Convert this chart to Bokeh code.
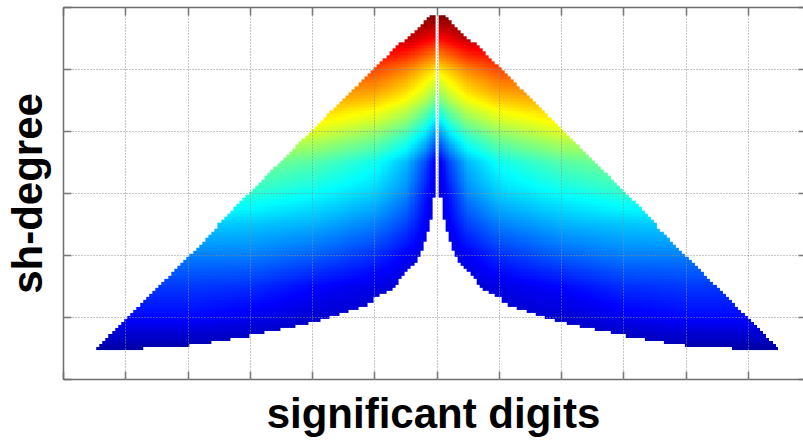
import numpy as np
from bokeh.plotting import figure
from bokeh.models import Range1d, FixedTicker, LinearAxis, CustomJSTickFormatter
from bokeh.embed import file_html
from bokeh.resources import INLINE

# ---------------- data ----------------
# rows of the map: sh-degree of each row (bottom row .. apex row)
degree_first = 10
degree_last = 117

# outer edge of the triangle: half-width (in columns) read at several degrees
edge_degree = [10, 20, 40, 60, 80, 100, 117]
edge_halfwidth = [109, 99, 79, 60, 40, 20, 2]

# empty notch at the bottom centre: lowest degree present for each |column|
notch_col = [1, 2, 3, 4, 5, 6, 7, 8, 9, 10, 11, 12, 13, 14, 15, 17, 19, 21, 23, 26,
             29, 32, 35, 38, 42, 46, 51, 56, 61, 67, 73, 80, 95]
notch_min_degree = [59, 52, 48, 45, 42, 40, 38, 37, 36, 35, 34, 33, 31, 30, 29, 28, 27, 25, 24, 23,
                    22, 21, 20, 19, 18, 17, 16, 15, 14, 13, 12, 11, 10]

# colour level (0..1 on the jet scale) read at degree x |column|
level_degree = [10, 20, 30, 40, 50, 60, 70, 80, 90, 100, 110, 117]
level_col = [1, 4, 10, 20, 40, 60, 80, 100, 110]
level_values = [
    [0.04, 0.04, 0.04, 0.04, 0.04, 0.04, 0.04, 0.04, 0.04],
    [0.05, 0.05, 0.06, 0.07, 0.08, 0.11, 0.13, 0.13, 0.13],
    [0.06, 0.06, 0.08, 0.10, 0.13, 0.17, 0.18, 0.18, 0.18],
    [0.08, 0.09, 0.12, 0.17, 0.22, 0.25, 0.25, 0.25, 0.25],
    [0.09, 0.12, 0.19, 0.25, 0.30, 0.32, 0.33, 0.33, 0.33],
    [0.10, 0.15, 0.26, 0.33, 0.38, 0.42, 0.42, 0.42, 0.42],
    [0.12, 0.20, 0.31, 0.39, 0.46, 0.50, 0.50, 0.50, 0.50],
    [0.30, 0.37, 0.46, 0.53, 0.60, 0.60, 0.60, 0.60, 0.60],
    [0.50, 0.55, 0.62, 0.68, 0.72, 0.72, 0.72, 0.72, 0.72],
    [0.66, 0.69, 0.75, 0.81, 0.81, 0.81, 0.81, 0.81, 0.81],
    [0.88, 0.90, 0.95, 0.95, 0.95, 0.95, 0.95, 0.95, 0.95],
    [1.00, 1.00, 1.00, 1.00, 1.00, 1.00, 1.00, 1.00, 1.00],
]

x_ticks = [-120, -100, -80, -60, -40, -20, 0, 20, 40, 60, 80, 100]
y_ticks = [0, 20, 40, 60, 80, 100, 120]

# jet colour map anchors
jet_pos = [0.0, 0.125, 0.375, 0.625, 0.875, 1.0]
jet_r = [0.0, 0.0, 0.0, 1.0, 1.0, 0.5]
jet_g = [0.0, 0.0, 1.0, 1.0, 0.0, 0.0]
jet_b = [0.5, 1.0, 1.0, 0.0, 0.0, 0.0]

# ---------------- build the cell map ----------------
degrees = np.arange(degree_first, degree_last + 1)
maxw = max(edge_halfwidth)
cols = np.arange(-maxw, maxw + 1)
acol = np.abs(cols)

lv = np.array(level_values)
by_col = np.array([np.interp(acol, level_col, row) for row in lv])  # (n_level, ncols)
field = np.array([np.interp(degrees, level_degree, by_col[:, j]) for j in range(len(cols))]).T

half = np.rint(np.interp(degrees, edge_degree, edge_halfwidth))
idx = np.searchsorted(notch_col, acol, side="right") - 1
min_deg = np.where(idx >= 0, np.array(notch_min_degree)[np.clip(idx, 0, None)], 999)

mask = (acol[None, :] >= 1) & (acol[None, :] <= half[:, None]) & (degrees[:, None] >= min_deg[None, :])

r = np.interp(field, jet_pos, jet_r)
g = np.interp(field, jet_pos, jet_g)
b = np.interp(field, jet_pos, jet_b)

nrow, ncol = field.shape
img = np.zeros((nrow, ncol), dtype=np.uint32)
view = img.view(dtype=np.uint8).reshape((nrow, ncol, 4))
view[:, :, 0] = np.rint(r * 255).astype(np.uint8)
view[:, :, 1] = np.rint(g * 255).astype(np.uint8)
view[:, :, 2] = np.rint(b * 255).astype(np.uint8)
view[:, :, 3] = np.where(mask, 255, 0).astype(np.uint8)

up = 4
img_up = np.repeat(np.repeat(img, up, axis=0), up, axis=1)

# ---------------- figure ----------------
p = figure(width=803, height=440,
           x_range=Range1d(-120, 117.7), y_range=Range1d(0, 120),
           output_backend="svg", toolbar_location=None,
           min_border_left=61, min_border_right=0, min_border_top=7, min_border_bottom=61)
p.background_fill_color = "white"
p.border_fill_color = "white"
p.outline_line_color = None

p.image_rgba(image=[img_up], x=cols[0] - 0.5, y=degrees[0] - 0.5, dw=len(cols), dh=len(degrees))

empty = CustomJSTickFormatter(code="return ''")
axis_color = "#6e6e6e"

for ax, ticks in ((p.xaxis[0], x_ticks), (p.yaxis[0], y_ticks)):
    ax.ticker = FixedTicker(ticks=ticks)
    ax.formatter = empty
    ax.major_tick_in = 8
    ax.major_tick_out = 0
    ax.minor_tick_line_color = None
    ax.major_label_standoff = 0
    ax.axis_line_color = axis_color
    ax.axis_line_width = 1.5
    ax.major_tick_line_color = axis_color
    ax.major_tick_line_width = 1.5
    ax.axis_label_text_font = "Liberation Sans"
    ax.axis_label_text_font_size = "42px"
    ax.axis_label_text_font_style = "bold"
    ax.axis_label_text_color = "black"

p.xaxis.axis_label = "significant digits"
p.yaxis.axis_label = "sh-degree"
p.xaxis.axis_label_standoff = 10
p.yaxis.axis_label_standoff = 13

top = LinearAxis(ticker=FixedTicker(ticks=x_ticks), formatter=CustomJSTickFormatter(code="return ''"),
                 major_tick_in=8, major_tick_out=0, minor_tick_line_color=None,
                 major_label_standoff=0, axis_line_color=axis_color, axis_line_width=1.5,
                 major_tick_line_color=axis_color, major_tick_line_width=1.5)
p.add_layout(top, "above")

right = LinearAxis(ticker=FixedTicker(ticks=y_ticks), formatter=CustomJSTickFormatter(code="return ''"),
                   major_tick_in=5, major_tick_out=0, minor_tick_line_color=None,
                   major_label_standoff=0, axis_line_color=None,
                   major_tick_line_color=axis_color, major_tick_line_width=1.5)
p.add_layout(right, "right")

for grid, ticks in ((p.xgrid[0], x_ticks), (p.ygrid[0], y_ticks)):
    grid.ticker = FixedTicker(ticks=ticks)
    grid.grid_line_color = "#8c8c8c"
    grid.grid_line_dash = "1 2"
    grid.grid_line_width = 1
    grid.level = "overlay"

open("out.html", "w").write(file_html(p, INLINE))
